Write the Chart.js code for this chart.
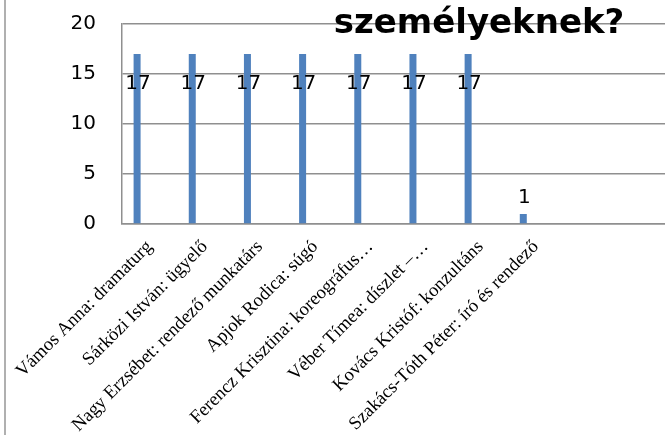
<!DOCTYPE html>
<html>
<head>
<meta charset="utf-8">
<script src="https://cdn.jsdelivr.net/npm/chart.js@4/dist/chart.umd.min.js"></script>
<style>
  html, body { margin: 0; padding: 0; background: #fff; overflow: hidden; }
  #wrap { position: relative; width: 665px; height: 435px; overflow: hidden; }
  #edge { position: absolute; left: 4px; top: 0; width: 2px; height: 435px; background: #b0b0b0; }
  canvas { position: absolute; left: 0; top: 0; }
</style>
</head>
<body>
<div id="wrap">
  <canvas id="chart" width="674" height="435" style="width:674px;height:435px"></canvas>
  <div id="edge"></div>
</div>
<script>
const titleText = 'személyeknek?';
const categories = [
  'Vámos Anna: dramaturg',
  'Sárközi István: ügyelő',
  'Nagy Erzsébet: rendező munkatárs',
  'Apjok Rodica: súgó',
  'Ferencz Krisztina: koreográfus…',
  'Véber Tímea: díszlet –…',
  'Kovács Kristóf: konzultáns',
  'Szakács-Tóth Péter: író és rendező',
  '',
  ''
];
const counts = [17, 17, 17, 17, 17, 17, 17, 1];
// second series of the original chart, no visible values
const otherCounts = [];
const yTicks = [0, 5, 10, 15, 20];

const gridColor = '#8f8f8f';

const titlePlugin = {
  id: 'titleText',
  afterDraw(chart) {
    const ctx = chart.ctx;
    ctx.save();
    ctx.font = 'bold 34px "DejaVu Sans"';
    ctx.fillStyle = '#000';
    ctx.textAlign = 'center';
    ctx.textBaseline = 'alphabetic';
    ctx.fillText(titleText, 479, 33);
    ctx.restore();
  }
};

const valueLabels = {
  id: 'valueLabels',
  afterDatasetsDraw(chart) {
    const ctx = chart.ctx;
    const meta = chart.getDatasetMeta(0);
    ctx.save();
    ctx.font = '20px "DejaVu Sans"';
    ctx.fillStyle = '#000';
    ctx.textAlign = 'center';
    ctx.textBaseline = 'middle';
    meta.data.forEach((bar, i) => {
      const v = counts[i];
      const h = bar.base - bar.y;
      const y = h > 40 ? bar.y + 30 : bar.y - 16;
      ctx.fillText(String(v), bar.x + 1, y);
    });
    ctx.restore();
  }
};

new Chart(document.getElementById('chart'), {
  type: 'bar',
  data: {
    labels: categories,
    datasets: [
      {
        label: 'Igen',
        data: counts,
        backgroundColor: '#4f81bd',
        borderWidth: 0,
        categoryPercentage: 0.906,
        barPercentage: 0.28
      },
      {
        label: '',
        data: otherCounts,
        backgroundColor: '#c0504d',
        borderWidth: 0,
        categoryPercentage: 0.906,
        barPercentage: 0.28
      }
    ]
  },
  options: {
    responsive: false,
    animation: false,
    layout: { padding: { top: 24, left: 0, right: 0, bottom: 0 } },
    plugins: {
      legend: { display: false },
      title: { display: false },
      tooltip: { enabled: false }
    },
    scales: {
      x: {
        offset: true,
        grid: { display: false, drawTicks: false },
        border: { display: true, color: gridColor, width: 1.5 },
        ticks: {
          autoSkip: false,
          maxRotation: 45,
          minRotation: 45,
          padding: 12,
          color: '#000',
          font: { family: '"Liberation Serif"', size: 18.7 }
        },
        afterFit(scale) {
          scale.height = 211;
          scale.paddingTop = 0;
          scale.paddingBottom = 0;
        }
      },
      y: {
        min: 0,
        max: 20,
        afterBuildTicks(scale) { scale.ticks = yTicks.map(v => ({ value: v })); },
        grid: { color: gridColor, lineWidth: 1.5, drawTicks: false },
        border: { display: true, color: gridColor, width: 1.5 },
        ticks: {
          padding: 26,
          color: '#000',
          font: { family: '"DejaVu Sans"', size: 20 }
        },
        afterFit(scale) {
          scale.width = 122;
          scale.paddingTop = 0;
          scale.paddingBottom = 0;
        }
      }
    }
  },
  plugins: [titlePlugin, valueLabels]
});
</script>
</body>
</html>
